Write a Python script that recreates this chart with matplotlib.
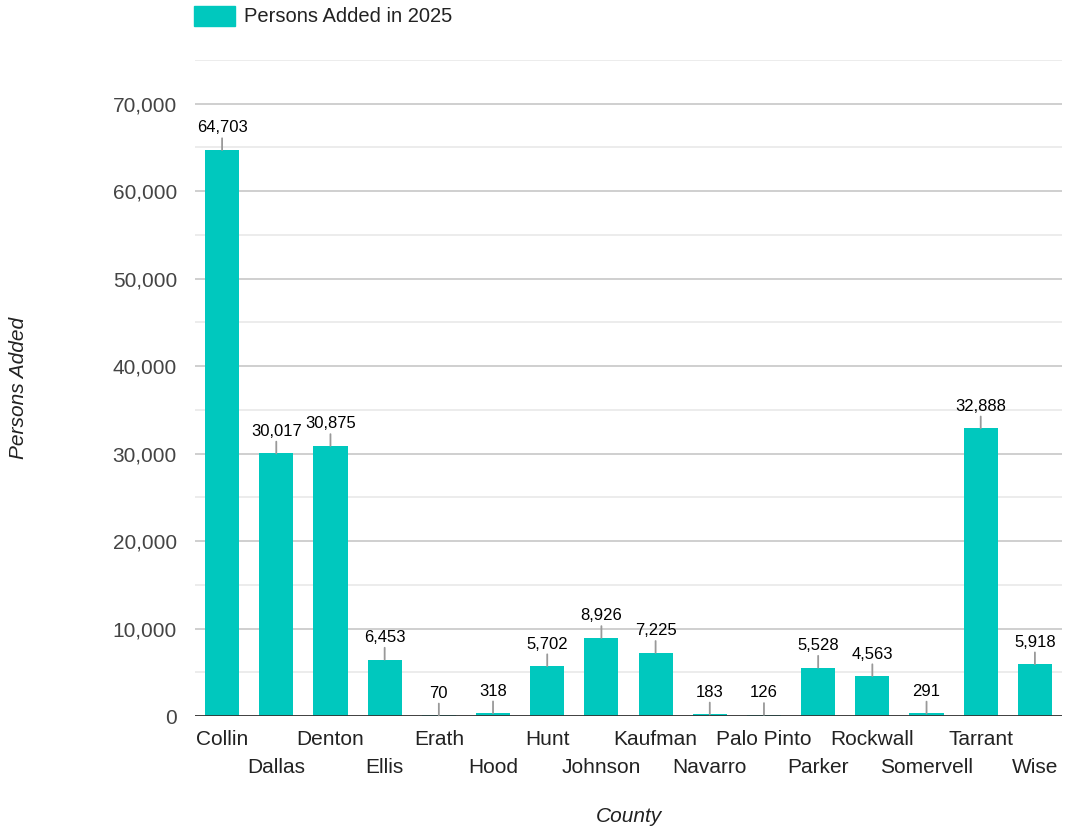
import numpy as np
import matplotlib.pyplot as plt
from matplotlib.ticker import FuncFormatter, MultipleLocator

# =====================
# Datos
# =====================

counties = ["Collin", "Dallas", "Denton", "Ellis", "Erath", "Hood", "Hunt",
            "Johnson", "Kaufman", "Navarro", "Palo Pinto", "Parker",
            "Rockwall", "Somervell", "Tarrant", "Wise"]
added = [64703, 30017, 30875, 6453, 70, 318, 5702, 8926, 7225, 183, 126,
         5528, 4563, 291, 32888, 5918]

series_name = "Persons Added in 2025"
bar_color = "#00C8BE"

plt.rcParams['font.family'] = ['Liberation Sans', 'DejaVu Sans']

# =====================
# gráfico
# =====================

fig = plt.figure(figsize=(10.67, 8.31), dpi=100)
ax = fig.add_axes([195/1067, 1 - 716/831, (1062 - 195)/1067, (716 - 60)/831])

x = np.arange(len(counties))
ax.bar(x, added, width=0.63, color=bar_color, zorder=3, label=series_name)

ax.set_xlim(-0.5, len(counties) - 0.5)
ax.set_ylim(0, 75000)

# rejilla mayor y menor
ax.yaxis.set_major_locator(MultipleLocator(10000))
ax.yaxis.set_minor_locator(MultipleLocator(5000))
ax.grid(axis='y', which='major', color='#cccccc', linewidth=1.3, zorder=0)
ax.grid(axis='y', which='minor', color='#ebebeb', linewidth=1.3, zorder=0)
ax.axhline(0, color='#333333', linewidth=2, zorder=4)

ax.yaxis.set_major_formatter(FuncFormatter(lambda v, p: f"{int(v):,}"))
ax.tick_params(axis='y', which='both', length=0, pad=13, labelsize=15,
               labelcolor='#444444')

# etiquetas del eje x en dos filas
ax.set_xticks(x[::2])
ax.set_xticklabels(counties[::2])
ax.set_xticks(x[1::2], minor=True)
ax.set_xticklabels(counties[1::2], minor=True)
ax.tick_params(axis='x', which='major', length=0, pad=10, labelsize=15,
               labelcolor='#222222')
ax.tick_params(axis='x', which='minor', length=0, pad=30, labelsize=15,
               labelcolor='#222222')

for s in ax.spines.values():
    s.set_visible(False)

# anotaciones con tallo
for xi, v in zip(x, added):
    ax.annotate(f"{v:,}", xy=(xi, v), xytext=(0, 10.5), textcoords='offset points',
                ha='center', va='bottom', fontsize=12, color='#000000',
                arrowprops=dict(arrowstyle='-', color='#999999', lw=1.3,
                                shrinkA=0, shrinkB=0), zorder=5)

ax.set_xlabel("County", fontsize=15, style='italic', color='#222222', va='center')
ax.xaxis.set_label_coords(0.5, -(817 - 716) / (716 - 60), transform=ax.transAxes)
ax.set_ylabel("Persons Added", fontsize=15, style='italic', color='#222222',
              va='center')
ax.yaxis.set_label_coords(-(195 - 19) / (1062 - 195), 0.5, transform=ax.transAxes)

# leyenda arriba a la izquierda
fig.patches.append(plt.Rectangle((194/1067, 1 - 26/831), 41/1067, 20/831,
                                 transform=fig.transFigure, color=bar_color))
fig.text(244/1067, 1 - 17/831, series_name, fontsize=14.5, color='#222222',
         va='center', ha='left')

fig.savefig("out.png", dpi=100)
